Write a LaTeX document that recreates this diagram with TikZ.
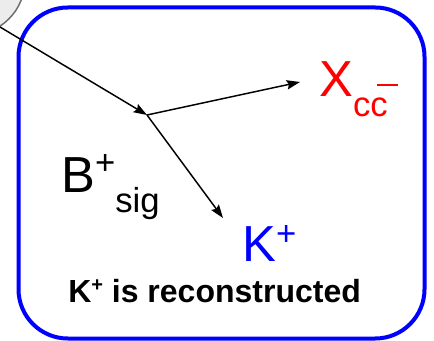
\documentclass[tikz,border=0pt]{standalone}
\usepackage{fontspec}
\setmainfont{Liberation Sans}
\usetikzlibrary{arrows.meta}
\definecolor{boxblue}{RGB}{0,0,255}
\definecolor{textred}{RGB}{255,0,0}
\definecolor{blobgray}{RGB}{236,236,236}
\definecolor{bordergray}{RGB}{110,110,110}
\tikzset{
    bigtext/.style={inner sep=0pt, anchor=base west, font=\fontsize{38}{40}\selectfont},
    boldtext/.style={inner sep=0pt, anchor=base west, font=\fontsize{24}{26}\selectfont\bfseries},
    decaybox/.style={draw=boxblue, line width=3pt, rounded corners=37pt},
    myarrow/.style={-{Stealth[length=10pt, width=7pt, inset=1.5pt]}, line width=1.1pt, draw=black}
}
\newcommand{\subsize}{\fontsize{26}{28}\selectfont}

\begin{document}
\begin{tikzpicture}[x=0.75pt, y=-0.75pt]

    \useasboundingbox (0,0) rectangle (434,341);
    \fill[white] (0,0) rectangle (434,341);
    \clip (0,0) rectangle (434,341);

    % 1. Blob in the corner
    \node[circle, draw=bordergray, fill=blobgray, line width=1.1pt, minimum size=82.5pt] (blob) at (-30,-20) {};

    % 2. Box
    \node[decaybox, minimum width=304.5pt, minimum height=248.25pt] (box) at (221.5,173) {};

    % 3. Decay vertex
    \coordinate (src) at (0,27);
    \coordinate (vtx) at (147,115);
    \coordinate (xtip) at (300,82);
    \coordinate (ktip) at (223,218);

    % 4. Labels
    \node[bigtext, text=textred] (xcc) at (319,97) {X\raisebox{-15pt}{\subsize cc\rlap{\hspace*{-0.32em}\raisebox{0.88em}{\rule{0.62em}{0.07em}}}}};
    \node[bigtext] (bsig) at (61,193) {B\raisebox{13.5pt}{\subsize +}\raisebox{-15pt}{\subsize sig}};
    \node[bigtext, text=boxblue] (kplus) at (242,262) {K\raisebox{12pt}{\subsize +}};
    \node[boldtext] (recolabel) at (68,302) {K\raisebox{8pt}{\fontsize{15}{17}\selectfont +} is reconstructed};

    % Arrows
    \draw[myarrow] (src) -- (vtx);
    \draw[myarrow] (vtx) -- (xtip);
    \draw[myarrow] (vtx) -- (ktip);

\end{tikzpicture}
\end{document}
